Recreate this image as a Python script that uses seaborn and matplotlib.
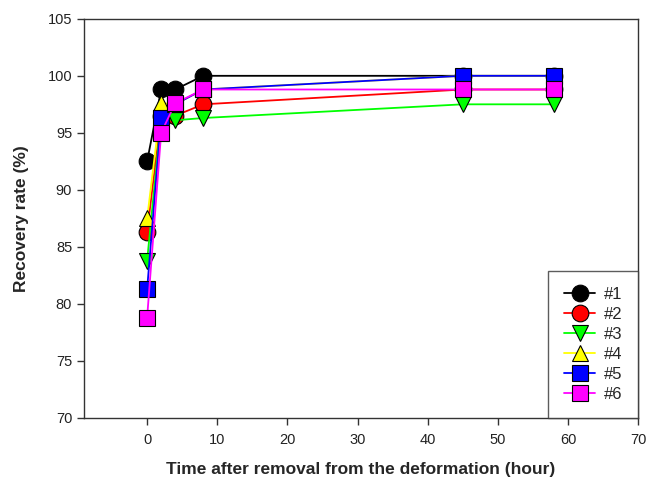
import matplotlib
matplotlib.use("Agg")
import matplotlib.pyplot as plt
import seaborn as sns
import pandas as pd

sns.set_theme(style="ticks")
plt.rcParams['font.family'] = ['Liberation Sans', 'DejaVu Sans']

time_h = [0, 2, 4, 8, 45, 58]
s1 = [92.5, 98.8, 98.8, 100.0, 100.0, 100.0]
s2 = [86.3, 96.5, 96.5, 97.5, 98.8, 98.8]
s3 = [83.8, 96.3, 96.1, 96.3, 97.5, 97.5]
s4 = [87.5, 97.6, 97.5, 98.8, 100.0, 100.0]
s5 = [81.3, 96.3, 97.5, 98.8, 100.0, 100.0]
s6 = [78.8, 95.0, 97.6, 98.8, 98.8, 98.8]
labels = ['#1', '#2', '#3', '#4', '#5', '#6']
series = [s1, s2, s3, s4, s5, s6]

colors = ['black', 'red', '#00ff00', 'yellow', 'blue', 'magenta']
markers = ['o', 'o', 'v', '^', 's', 's']

fig = plt.figure(figsize=(6.46, 4.82), dpi=100)
ax = fig.add_axes([0.130, 0.133, 0.858, 0.828])

for lab, ys, c, m in zip(labels, series, colors, markers):
    df = pd.DataFrame({'t': time_h, 'r': ys})
    sns.lineplot(data=df, x='t', y='r', ax=ax, color=c, marker=m,
                 markersize=12, markeredgecolor='black', markeredgewidth=0.8,
                 linewidth=1.3, label=lab)

ax.set_xlim(-9, 70)
ax.set_ylim(70, 105)
ax.set_xticks(range(0, 71, 10))
ax.set_yticks(range(70, 106, 5))
for sp in ax.spines.values():
    sp.set_color('#333333')
    sp.set_linewidth(1.0)
ax.tick_params(axis='both', direction='out', length=5, width=1, colors='#333333',
               labelsize=10.5, labelcolor='#222222')
ax.tick_params(axis='x', pad=6)
ax.set_xlabel('Time after removal from the deformation (hour)', fontsize=12.5,
              fontweight='bold', labelpad=11)
ax.set_ylabel('Recovery rate (%)', fontsize=12.5, fontweight='bold', labelpad=13)

leg = ax.legend(loc='lower right', frameon=True, fancybox=False, fontsize=12,
                borderaxespad=0, handlelength=1.9, labelspacing=0.3,
                borderpad=0.95, handletextpad=0.5)
leg.get_frame().set_edgecolor('#333333')
leg.get_frame().set_linewidth(1.0)

fig.savefig('out.png', dpi=100)
